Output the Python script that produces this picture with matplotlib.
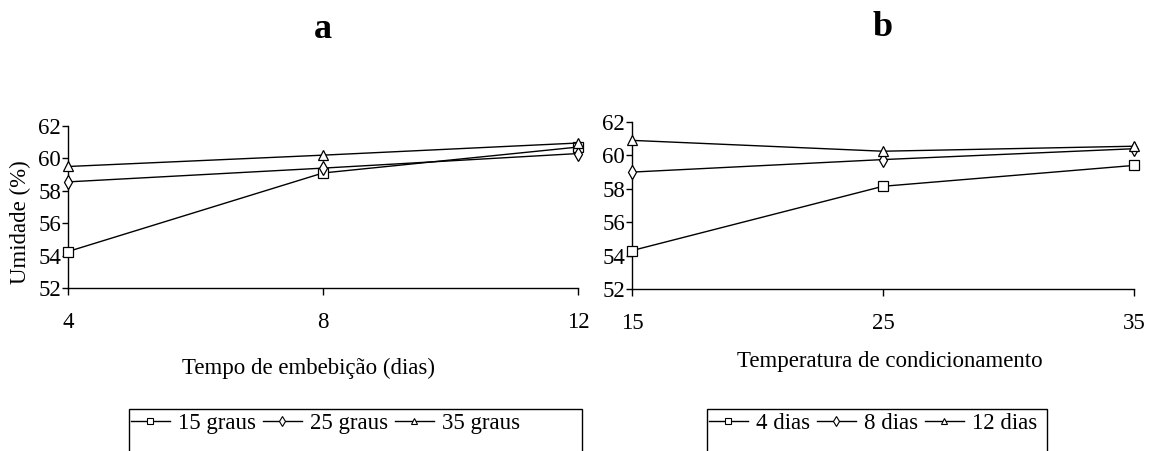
import numpy as np
import matplotlib.pyplot as plt
from matplotlib.patches import Rectangle
from matplotlib.lines import Line2D

plt.rcParams['font.family'] = ['Liberation Serif', 'DejaVu Serif']

# painel a: tempo de embebicao (dias)
dias = [4, 8, 12]
a_labels = ['15 graus', '25 graus', '35 graus']
a_15 = [54.25, 59.1, 60.7]
a_25 = [58.55, 59.4, 60.3]
a_35 = [59.5, 60.2, 60.95]

# painel b: temperatura de condicionamento
temps = [15, 25, 35]
b_labels = ['4 dias', '8 dias', '12 dias']
b_4 = [54.3, 58.15, 59.4]
b_8 = [59.0, 59.75, 60.4]
b_12 = [60.9, 60.25, 60.55]

y_ticks = [52, 54, 56, 58, 60, 62]

W, H = 1152, 451
fs = 16.5
markers = ['s', 'd', '^']


def px_box(x0, x1, ytop, ybot):
    # axes box from pixel coordinates (y measured from top)
    return [x0 / W, 1 - ybot / H, (x1 - x0) / W, (ybot - ytop) / H]


def style_axis(ax, xticks, xlim):
    for s in ['top', 'right']:
        ax.spines[s].set_visible(False)
    for s in ['left', 'bottom']:
        ax.spines[s].set_linewidth(1.0)
        ax.spines[s].set_color('black')
    ax.set_xlim(*xlim)
    ax.set_ylim(52, 62)
    ax.set_xticks(xticks)
    ax.set_yticks(y_ticks)
    ax.tick_params(axis='y', direction='out', length=4, width=1, pad=1, labelsize=fs)
    ax.tick_params(axis='x', direction='out', length=5, width=1, pad=12, labelsize=fs)


def draw_series(ax, x, series):
    for ys, m in zip(series, markers):
        ax.plot(x, ys, color='black', lw=1.0, marker=m, markersize=7,
                markerfacecolor='white', markeredgecolor='black',
                markeredgewidth=0.9, clip_on=False, zorder=3)


fig = plt.figure(figsize=(W / 100, H / 100), dpi=100)

ax1 = fig.add_axes(px_box(68, 578, 126, 288))
draw_series(ax1, dias, [a_15, a_25, a_35])
style_axis(ax1, dias, (4, 12))

ax2 = fig.add_axes(px_box(632, 1134, 122, 289))
draw_series(ax2, temps, [b_4, b_8, b_12])
style_axis(ax2, temps, (15, 35))

fig.text(323 / W, 1 - 29 / H, 'a', ha='center', va='center', fontsize=26, fontweight='bold')
fig.text(883 / W, 1 - 27 / H, 'b', ha='center', va='center', fontsize=26, fontweight='bold')

fig.text(20 / W, 1 - 222 / H, 'Umidade (%)', rotation=90, ha='center', va='center', fontsize=fs)
fig.text(309 / W, 1 - 368 / H, 'Tempo de embebição (dias)', ha='center', va='center', fontsize=fs)
fig.text(890 / W, 1 - 362 / H, 'Temperatura de condicionamento', ha='center', va='center', fontsize=fs)


def make_handles():
    return [Line2D([], [], color='black', lw=1.0, marker=m, markersize=5,
                   markerfacecolor='white', markeredgecolor='black', markeredgewidth=0.8)
            for m in markers]


leg_kw = dict(ncol=3, frameon=False, fontsize=fs, handlelength=1.7, handletextpad=0.35,
              columnspacing=0.3, borderpad=0, borderaxespad=0, loc='center left')
fig.legend(make_handles(), a_labels, bbox_to_anchor=(131 / W, 1 - 423 / H), **leg_kw)
fig.legend(make_handles(), b_labels, bbox_to_anchor=(709 / W, 1 - 423 / H), **leg_kw)

# legend boxes, cut off at the bottom edge as in the original
for x0, x1 in [(129, 582), (707, 1047)]:
    fig.patches.append(Rectangle((x0 / W, -0.05), (x1 - x0) / W, 0.05 + (1 - 409 / H),
                                 transform=fig.transFigure, fill=False,
                                 edgecolor='black', lw=1.0))

fig.savefig('out.png', dpi=100)
